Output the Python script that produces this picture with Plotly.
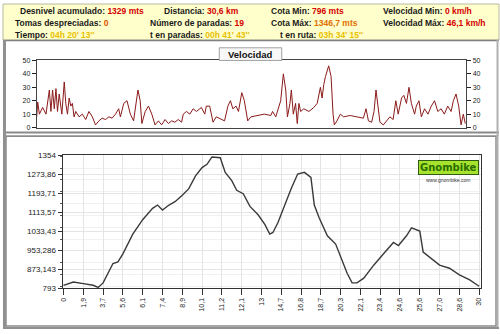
import plotly.graph_objects as go

# ---------------- data ----------------
# speed profile (km along route, km/h)
vel_km = [0.0, 0.07, 0.19, 0.42, 0.66, 0.78, 0.90, 1.01, 1.13, 1.25, 1.37, 1.48, 1.60, 1.79, 1.96,
          2.07, 2.19, 2.31, 2.43, 2.54, 2.66, 2.78, 3.02, 3.25, 3.49, 3.72, 3.96, 4.19, 4.43, 4.66,
          4.90, 5.14, 5.37, 5.61, 5.84, 5.96, 6.20, 6.43, 6.67, 6.90, 7.02, 7.21, 7.37, 7.49, 7.73,
          7.96, 8.20, 8.43, 8.67, 8.90, 9.14, 9.38, 9.61, 9.84, 10.08, 10.32, 10.44, 10.67, 10.91,
          11.14, 11.38, 11.73, 11.97, 12.08, 12.32, 12.56, 12.79, 13.14, 13.38, 13.62, 13.80, 13.97,
          14.20, 14.37, 14.61, 14.79, 15.03, 15.26, 15.74, 16.21, 16.68, 16.80, 17.03, 17.38, 17.57,
          17.74, 17.86, 18.04, 18.14, 18.28, 18.44, 18.56, 18.68, 18.80, 19.03, 19.39, 19.74, 19.98,
          20.21, 20.33, 20.45, 20.57, 20.80, 20.97, 21.11, 21.20, 21.39, 21.63, 21.86, 22.33, 22.80,
          23.27, 23.46, 23.63, 23.86, 24.03, 24.17, 24.33, 24.45, 24.69, 24.92, 25.16, 25.39, 25.58,
          25.75, 25.99, 26.15, 26.34, 26.52, 26.69, 26.92, 27.04, 27.23, 27.40, 27.63, 27.87, 28.11,
          28.34, 28.57, 28.81, 29.04, 29.28, 29.52, 29.68, 29.87, 30.06, 30.23, 30.39, 30.53]
vel_kmh = [8, 19, 10, 15, 10, 20, 28, 12, 28, 14, 29, 12, 25, 10, 34,
           18, 10, 22, 16, 18, 8, 12, 8, 10, 6, 12, 8, 2, 5, 7,
           6, 8, 7, 10, 14, 8, 18, 20, 10, 5, 15, 28, 20, 3, 12,
           16, 10, 2, 5, 2, 6, 3, 5, 4, 6, 4, 10, 12, 10,
           14, 12, 15, 10, 16, 16, 4, 8, 6, 5, 16, 20, 14,
           16, 12, 26, 20, 5, 8, 9, 10, 9, 12, 8, 20, 40,
           28, 8, 18, 28, 10, 18, 3, 18, 12, 14, 12, 15, 18,
           30, 22, 32, 38, 46, 38, 10, 2, 5, 10, 8, 9, 8,
           7, 14, 5, 4, 12, 28, 14, 4, 2, 5, 8, 6, 20,
           10, 22, 24, 18, 30, 18, 10, 16, 20, 8, 14, 10, 16,
           20, 12, 14, 10, 16, 12, 20, 25, 16, 2, 10, 3]

# elevation profile (position along the sample axis, metres)
ele_pos = [0.0, 0.5, 1.0, 1.5, 1.75, 2.0, 2.5, 2.75, 3.0, 3.5, 4.0, 4.5, 4.75, 5.0, 5.33, 5.65,
           6.0, 6.33, 6.67, 7.0, 7.25, 7.5, 7.92, 8.17, 8.5, 8.75, 9.08, 9.42, 9.83, 10.17, 10.42,
           10.58, 10.83, 11.17, 11.5, 11.83, 12.17, 12.5, 12.67, 12.92, 13.33, 13.75, 14.0, 14.33,
           14.58, 14.83, 15.17, 15.67, 16.17, 16.67, 16.92, 17.33, 17.58, 18.0, 18.17, 18.58, 19.0,
           19.5, 20.0, 20.5, 21.0]
ele_m = [805, 819, 812, 805, 796, 815, 897, 904, 938, 1021, 1082, 1130, 1144, 1123, 1144, 1159,
         1185, 1213, 1267, 1302, 1316, 1347, 1344, 1282, 1247, 1206, 1192, 1138, 1103, 1062, 1021,
         1028, 1069, 1144, 1213, 1275, 1282, 1261, 1144, 1089, 1014, 979, 925, 856,
         815, 815, 835, 890, 938, 986, 973, 1014, 1048, 1034, 945, 918, 890,
         877, 849, 829, 801]

dist_ticks = ["0", "1,9", "3,7", "5,6", "6,1", "7,4", "8,9", "10,1", "11,2", "12,1", "13",
              "14,7", "16,8", "18,7", "20,3", "22,1", "23,4", "24,6", "25,6", "27,0", "28,6", "30"]
ele_ticks = [793, 873.143, 953.286, 1033.43, 1113.57, 1193.71, 1273.86, 1354]
ele_tick_text = ["793", "873,143", "953,286", "1033,43", "1113,57", "1193,71", "1273,86", "1354"]
vel_ticks = [0, 10, 20, 30, 40, 50]

header_rows = [
    [("Desnivel acumulado: ", "1329 mts", "#d40000", 15),
     ("Distancia: ", "30,6 km", "#d40000", 160),
     ("Cota Min: ", "796 mts", "#d40000", 268),
     ("Velocidad Min: ", "0 km/h", "#d40000", 381)],
    [("Tomas despreciadas: ", "0", "#e05000", 10),
     ("Número de paradas: ", "19", "#d40000", 146),
     ("Cota Máx: ", "1346,7 mts", "#e07000", 268),
     ("Velocidad Máx: ", "46,1 km/h", "#d40000", 381)],
    [("Tiempo: ", "04h 20' 13''", "#e8c000", 10),
     ("t en paradas: ", "00h 41' 43''", "#e8c000", 146),
     ("t en ruta: ", "03h 34' 15''", "#e8c000", 277)],
]

# ---------------- figure ----------------
W, H = 500, 334
def px(x):
    return x / W
def py(y):
    return 1 - y / H

fig = go.Figure()

# elevation
fig.add_trace(go.Scatter(x=ele_pos, y=ele_m, mode="lines", xaxis="x", yaxis="y",
                         line=dict(color="#3a3a3a", width=1.4), hoverinfo="skip", showlegend=False))
# velocity
fig.add_trace(go.Scatter(x=vel_km, y=vel_kmh, mode="lines", xaxis="x2", yaxis="y2",
                         line=dict(color="#8b1a1a", width=1), hoverinfo="skip", showlegend=False))
# invisible trace for right velocity axis
fig.add_trace(go.Scatter(x=[vel_km[0]], y=[vel_kmh[0]], mode="lines", xaxis="x2", yaxis="y3",
                         line=dict(width=0), hoverinfo="skip", showlegend=False))

tickfont = dict(family="Liberation Sans, Arial", size=8, color="#222")

fig.update_layout(
    width=W, height=H, margin=dict(l=0, r=0, t=0, b=0),
    paper_bgcolor="white", plot_bgcolor="white",
    xaxis=dict(domain=[px(60), px(482)], anchor="y", range=[-0.05, 21.1],
               tickmode="array", tickvals=list(range(len(dist_ticks))), ticktext=dist_ticks,
               tickangle=-90, tickfont=dict(family="Liberation Sans, Arial", size=7, color="#222"),
               ticks="outside", ticklen=6, tickcolor="#333",
               showgrid=True, gridcolor="#e4e4e4", gridwidth=1,
               showline=True, linecolor="#333", linewidth=1, mirror=True, zeroline=False),
    yaxis=dict(domain=[py(292), py(155.5)], anchor="x", range=[793, 1354],
               tickmode="array", tickvals=ele_ticks, ticktext=ele_tick_text, tickfont=tickfont,
               ticks="outside", ticklen=4, tickcolor="#333",
               minor=dict(ticks="outside", ticklen=2, tickcolor="#555", nticks=5,
                          showgrid=True, gridcolor="#f1f1f1"),
               showgrid=True, gridcolor="#e4e4e4",
               showline=True, linecolor="#333", linewidth=1, mirror=True, zeroline=False),
    xaxis2=dict(domain=[px(34), px(467)], anchor="y2", range=[0, 30.6],
                showticklabels=False, ticks="", showgrid=False, zeroline=False,
                showline=True, linecolor="#444", linewidth=1, mirror=True),
    yaxis2=dict(domain=[py(127), py(58)], anchor="x2", range=[0, 50],
                tickvals=vel_ticks, tickfont=dict(family="Liberation Sans, Arial", size=7, color="#222"),
                ticks="outside", ticklen=4, tickcolor="#222", showgrid=False, zeroline=False,
                showline=True, linecolor="#444", linewidth=1),
    yaxis3=dict(domain=[py(127), py(58)], anchor="x2", overlaying="y2", side="right", range=[0, 50],
                tickvals=vel_ticks, tickfont=dict(family="Liberation Sans, Arial", size=7, color="#222"),
                ticks="outside", ticklen=4, tickcolor="#222", showgrid=False, zeroline=False,
                showline=True, linecolor="#444", linewidth=1),
)

shapes = []
# header band
shapes.append(dict(type="rect", xref="paper", yref="paper", x0=0, x1=1, y0=py(37), y1=py(0),
                   fillcolor="#ffffcc", line=dict(color="#b8b8a0", width=1), layer="below"))
shapes.append(dict(type="line", xref="paper", yref="paper", x0=0, x1=1, y0=py(37.5), y1=py(37.5),
                   line=dict(color="#808080", width=1.5)))
# separator between panels
shapes.append(dict(type="line", xref="paper", yref="paper", x0=0, x1=1, y0=py(132), y1=py(132),
                   line=dict(color="#8a8a8a", width=2)))
shapes.append(dict(type="line", xref="paper", yref="paper", x0=0, x1=1, y0=py(135.5), y1=py(135.5),
                   line=dict(color="#b0b0b0", width=1)))
# outer frame of main panel
shapes.append(dict(type="rect", xref="paper", yref="paper", x0=px(3), x1=px(497), y0=py(331), y1=py(136),
                   line=dict(color="#8a8a8a", width=1.5)))
# left frame bar
shapes.append(dict(type="line", xref="paper", yref="paper", x0=px(1.5), x1=px(1.5), y0=0, y1=py(37),
                   line=dict(color="#909090", width=3)))
shapes.append(dict(type="line", xref="paper", yref="paper", x0=px(498.5), x1=px(498.5), y0=0, y1=py(37),
                   line=dict(color="#b0b0b0", width=2)))
shapes.append(dict(type="line", xref="paper", yref="paper", x0=0, x1=1, y0=py(333), y1=py(333),
                   line=dict(color="#909090", width=2)))
# velocity title box
shapes.append(dict(type="rect", xref="paper", yref="paper", x0=px(218), x1=px(281), y0=py(58), y1=py(45),
                   fillcolor="#f8f8f8", line=dict(color="#a0a0a0", width=1)))
fig.update_layout(shapes=shapes)

ann = []
row_y = [7, 19.5, 31.5]
for r, row in enumerate(header_rows):
    for label, value, col, x0 in row:
        ann.append(dict(xref="paper", yref="paper", x=px(x0), y=py(row_y[r]), xanchor="left", yanchor="middle",
                        showarrow=False,
                        text="<b>" + label + "<span style='color:" + col + "'>" + value + "</span></b>",
                        font=dict(family="Liberation Sans, Arial", size=8.5, color="#1a1a1a")))
ann.append(dict(xref="paper", yref="paper", x=px(249.5), y=py(51.5), xanchor="center", yanchor="middle",
                showarrow=False, text="<b>Velocidad</b>",
                font=dict(family="Liberation Sans, Arial", size=9.5, color="#111")))
# logo
ann.append(dict(xref="paper", yref="paper", x=px(449), y=py(168), xanchor="center", yanchor="middle",
                showarrow=False, text="<b>Gnombike</b>", bgcolor="#a6e22e", bordercolor="#2f5d10",
                borderwidth=1, borderpad=1,
                font=dict(family="DejaVu Sans, Arial", size=10, color="#2a6e00")))
ann.append(dict(xref="paper", yref="paper", x=px(449), y=py(181), xanchor="center", yanchor="middle",
                showarrow=False, text="www.gnombike.com",
                font=dict(family="Liberation Sans, Arial", size=5, color="#333")))
fig.update_layout(annotations=ann)

fig.write_html("out.html")
